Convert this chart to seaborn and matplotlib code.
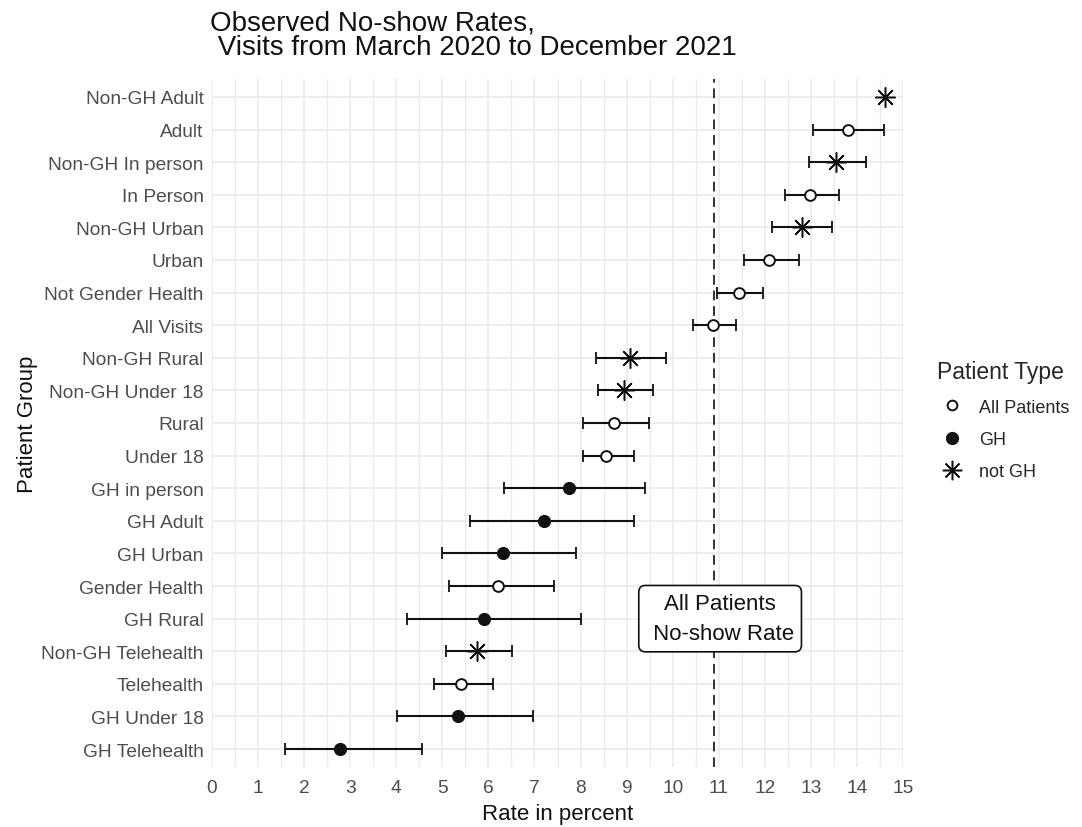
import numpy as np
import pandas as pd
import matplotlib
matplotlib.use("Agg")
import matplotlib.pyplot as plt
from matplotlib.lines import Line2D
from matplotlib.ticker import MultipleLocator
import seaborn as sns

groups = ["Non-GH Adult", "Adult", "Non-GH In person", "In Person", "Non-GH Urban",
          "Urban", "Not Gender Health", "All Visits", "Non-GH Rural", "Non-GH Under 18",
          "Rural", "Under 18", "GH in person", "GH Adult", "GH Urban", "Gender Health",
          "GH Rural", "Non-GH Telehealth", "Telehealth", "GH Under 18", "GH Telehealth"]
types = ["not GH", "All Patients", "not GH", "All Patients", "not GH",
         "All Patients", "All Patients", "All Patients", "not GH", "not GH",
         "All Patients", "All Patients", "GH", "GH", "GH", "All Patients",
         "GH", "not GH", "All Patients", "GH", "GH"]
rates = [14.60, 13.80, 13.54, 12.98, 12.80, 12.10, 11.43, 10.88, 9.07, 8.95,
         8.73, 8.55, 7.74, 7.20, 6.32, 6.21, 5.90, 5.76, 5.40, 5.33, 2.78]
lower = [np.nan, 13.05, 12.95, 12.43, 12.16, 11.55, 10.96, 10.45, 8.33, 8.37,
         8.06, 8.06, 6.33, 5.59, 5.00, 5.14, 4.23, 5.08, 4.81, 4.01, 1.59]
upper = [np.nan, 14.58, 14.20, 13.60, 13.46, 12.75, 11.96, 11.37, 9.85, 9.58,
         9.48, 9.17, 9.40, 9.17, 7.91, 7.43, 8.01, 6.52, 6.11, 6.97, 4.55]
all_rate = 10.89
type_order = ["All Patients", "GH", "not GH"]

df = pd.DataFrame({"group": groups, "type": types, "rate": rates,
                   "lower": lower, "upper": upper})
df["ypos"] = np.arange(len(df))

sns.set_theme(style="whitegrid")
plt.rcParams["font.family"] = ["Liberation Sans", "DejaVu Sans"]

fig = plt.figure(figsize=(10.82, 8.28), dpi=100)
ax = fig.add_axes([212 / 1082, 1 - 768 / 828, (903 - 212) / 1082, (768 - 80) / 828])

# error bars
xerr = np.vstack([df["rate"] - df["lower"], df["upper"] - df["rate"]])
ax.errorbar(df["rate"], df["ypos"], xerr=xerr, fmt="none", ecolor="#111111",
            elinewidth=1.5, capsize=4.0, capthick=1.3, zorder=3)

asterisk = (8, 2, 0)
styles = {
    "All Patients": dict(marker="o", s=60, color="white", edgecolor="#111111", linewidth=1.4),
    "GH": dict(marker="o", s=75, color="#111111", edgecolor="#111111", linewidth=0.8),
    "not GH": dict(marker=asterisk, s=200, color="#111111", linewidth=1.1),
}
for t in type_order:
    sub = df[df["type"] == t]
    sns.scatterplot(data=sub, x="rate", y="ypos", ax=ax, legend=False, zorder=4, **styles[t])

ax.axvline(all_rate, color="#333333", linestyle=(0, (5, 3)), linewidth=1.4, zorder=2)

ax.text(11.03, 16, "All Patients\n No-show Rate", ha="center", va="center",
        fontsize=16, color="#111111", linespacing=1.55, zorder=5,
        bbox=dict(boxstyle="round,pad=0.35,rounding_size=0.3", fc="white",
                  ec="#111111", lw=1.2))

ax.set_xlim(0, 15)
ax.set_ylim(len(df) - 1 + 0.55, -0.55)
ax.xaxis.set_major_locator(MultipleLocator(1))
ax.xaxis.set_minor_locator(MultipleLocator(0.5))
ax.set_yticks(df["ypos"])
ax.set_yticklabels(df["group"])
ax.grid(which="major", color="#EBEBEB", linewidth=1.2)
ax.grid(which="minor", axis="x", color="#EBEBEB", linewidth=1.0)
ax.set_axisbelow(True)
for sp in ax.spines.values():
    sp.set_visible(False)
ax.tick_params(axis="both", which="both", length=0, labelsize=13.8, colors="#4D4D4D")
ax.tick_params(axis="y", pad=6)
ax.tick_params(axis="x", pad=9)
ax.set_xlabel("Rate in percent", fontsize=16, color="#111111")
ax.set_ylabel("Patient Group", fontsize=16, color="#111111")
ax.xaxis.set_label_coords(0.5, -0.053)
ax.yaxis.set_label_coords(-0.252, 0.5)

fig.text(210 / 1082, 1 - 10 / 828,
         "Observed No-show Rates,\n Visits from March 2020 to December 2021",
         ha="left", va="top", fontsize=20, color="#111111", linespacing=0.95)

handles = [
    Line2D([], [], linestyle="none", marker="o", markersize=7, markerfacecolor="white",
           markeredgecolor="#111111", markeredgewidth=1.4),
    Line2D([], [], linestyle="none", marker="o", markersize=8.5, markerfacecolor="#111111",
           markeredgecolor="#111111"),
    Line2D([], [], linestyle="none", marker=asterisk, markersize=14, color="#111111",
           markeredgewidth=1.1),
]
leg = fig.legend(handles, type_order, title="Patient Type", loc="upper left",
                 bbox_to_anchor=(921 / 1082, 1 - 345 / 828), frameon=False,
                 fontsize=13, title_fontsize=16.5, labelspacing=0.85,
                 handletextpad=0.7, handlelength=1.6)
leg._legend_box.align = "left"

fig.savefig("out.png", dpi=100, facecolor="white")
